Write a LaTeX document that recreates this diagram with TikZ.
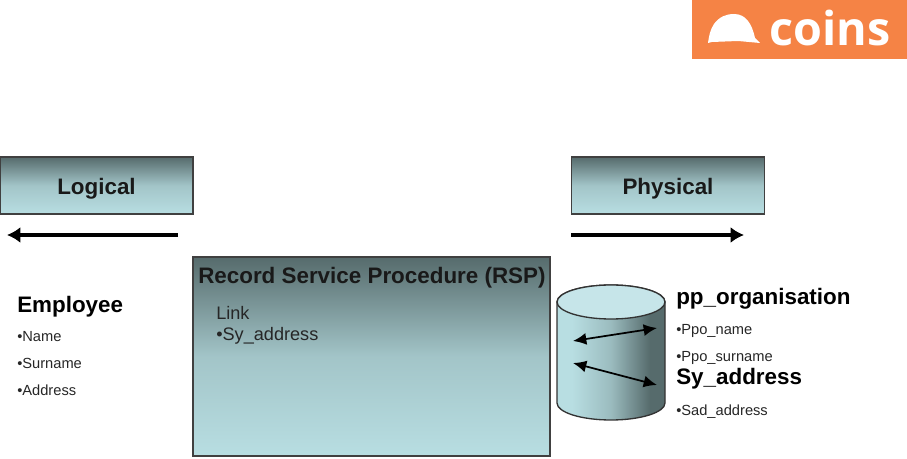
\documentclass[tikz,border=0pt]{standalone}
\usepackage{fontspec}
\setmainfont{Liberation Sans}
\newfontfamily\logofont{Open Sans}
\usetikzlibrary{arrows.meta}
\definecolor{tealdark}{HTML}{566B6C}
\definecolor{teallight}{HTML}{B8DEE2}
\definecolor{capfill}{HTML}{C6E5E9}
\definecolor{logoorange}{HTML}{F58345}
\pgfdeclareverticalshading{boxshade}{100bp}{color(0bp)=(teallight);color(25bp)=(teallight);color(50bp)=(teallight!78!tealdark);color(75bp)=(tealdark);color(100bp)=(tealdark)}
\pgfdeclarehorizontalshading{cylshade}{100bp}{color(0bp)=(teallight);color(32bp)=(teallight);color(50bp)=(teallight!70!tealdark);color(68bp)=(tealdark);color(100bp)=(tealdark)}
\tikzset{
  x=0.75pt,y=-0.75pt,
  headerbox/.style={draw=black!75,line width=1pt,shading=boxshade},
  flowarrow/.style={line width=3pt,-{Latex[length=10pt,width=12pt]}},
  dbarrow/.style={line width=1.3pt,{Latex[length=10pt,width=9pt]}-{Latex[length=10pt,width=9pt]}},
  headtext/.style={font=\bfseries\fontsize{16.8}{18}\selectfont,anchor=center,inner sep=0pt,text=black!90},
  tabletitle/.style={font=\bfseries\fontsize{16.8}{18}\selectfont,anchor=west,inner sep=0pt},
  fieldtext/.style={font=\fontsize{11}{12}\selectfont,anchor=west,inner sep=0pt,text=black!85},
  rsptext/.style={font=\fontsize{13.6}{15}\selectfont,anchor=west,inner sep=0pt,text=black!85},
}
\begin{document}
\begin{tikzpicture}
\useasboundingbox (0,0) rectangle (907,459);
% logo
\fill[logoorange] (692,0) rectangle (907,59);
\fill[white] (708,43) .. controls (709,36) and (710,30) .. (714,24)
  .. controls (719,17) and (726,14) .. (734,14)
  .. controls (746,14) and (752,24) .. (755,38) -- (760,43) -- (738,41) -- (712,42) -- cycle;
\node[inner sep=0pt,anchor=center,text=white] (logotext) at (830,28)
  {\logofont\bfseries\fontsize{35}{38}\selectfont coins};
% header boxes
\node[headerbox,minimum width=144.75pt,minimum height=42.75pt,inner sep=0pt] (logical) at (96.5,185.5) {};
\node[headtext] (logicaltext) at (96.5,189) {Logical};
\node[headerbox,minimum width=144.75pt,minimum height=42.75pt,inner sep=0pt] (physical) at (668,185.5) {};
\node[headtext] (physicaltext) at (668,189) {Physical};
% direction arrows
\coordinate (ls) at (178,235);
\coordinate (le) at (7,235);
\coordinate (rs) at (571,235);
\coordinate (re) at (744,235);
\draw[flowarrow] (ls) -- (le);
\draw[flowarrow] (rs) -- (re);
% RSP box
\node[headerbox,minimum width=267.75pt,minimum height=149.25pt,inner sep=0pt] (rsp) at (371.5,356.5) {};
\node[font=\bfseries\fontsize{16.8}{18}\selectfont,anchor=west,inner sep=0pt,text=black!90] (rsptitle) at (198,278) {Record Service Procedure (RSP)};
\node[rsptext] (link) at (216,313) {Link};
\node[rsptext] (syaddr) at (216,336) {•Sy\_address};
% left list
\node[tabletitle] (employee) at (17,307) {Employee};
\node[fieldtext] (name) at (17,337) {•Name};
\node[fieldtext] (surname) at (17,363) {•Surname};
\node[fieldtext] (address) at (17,390) {•Address};
% cylinder
\path[draw=black!80,line width=1pt,shading=cylshade] (557,302) -- (557,403)
  arc[start angle=180,end angle=360,x radius=54,y radius=-17] -- (665,302)
  arc[start angle=0,end angle=180,x radius=54,y radius=-17] -- cycle;
\draw[draw=black!80,line width=1pt,fill=capfill] (611,302) ellipse[x radius=54,y radius=-17];
\coordinate (a1) at (573,341);
\coordinate (a2) at (657,328);
\coordinate (b1) at (573,363);
\coordinate (b2) at (657,385);
\draw[dbarrow] (a1) -- (a2);
\draw[dbarrow] (b1) -- (b2);
% right list
\node[tabletitle] (pporg) at (676,299) {pp\_organisation};
\node[fieldtext] (pponame) at (676,331) {•Ppo\_name};
\node[fieldtext] (pposurname) at (676,358) {•Ppo\_surname};
\node[tabletitle] (sytitle) at (676,379) {Sy\_address};
\node[fieldtext] (sadaddr) at (676,412) {•Sad\_address};
\end{tikzpicture}
\end{document}
